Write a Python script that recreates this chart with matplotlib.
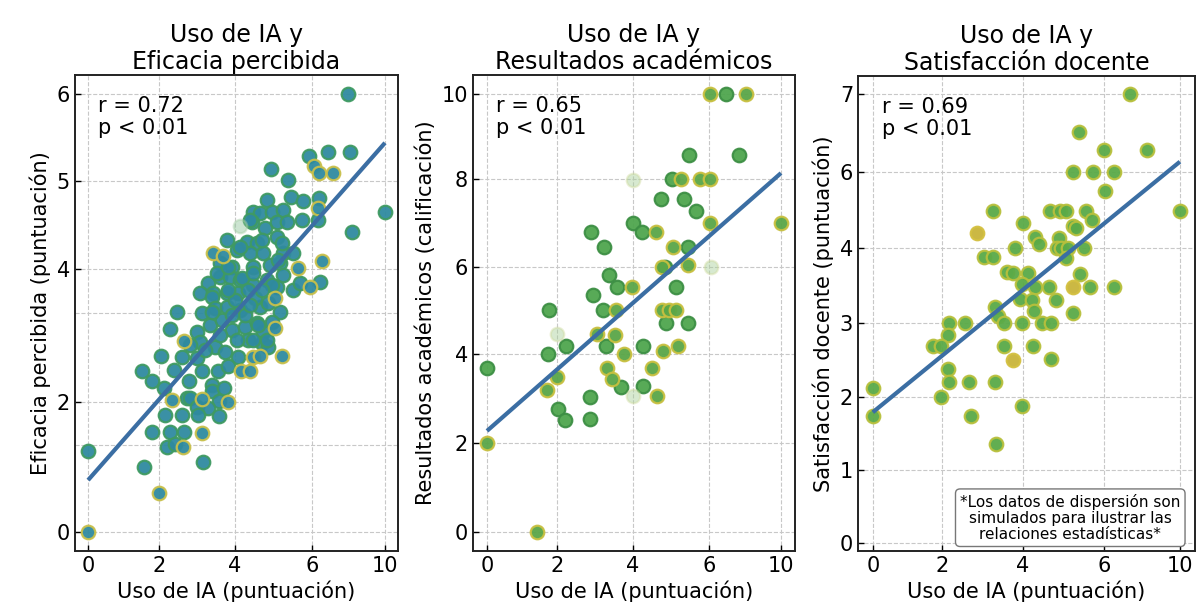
import numpy as np
import matplotlib
matplotlib.use("Agg")
import matplotlib.pyplot as plt

# ---------------- datos ----------------
# Panel 1: Uso de IA vs Eficacia percibida
x1 = [7.97, 6.88, 8.08, 5.92, 6.11, 6.38, 7.15, 4.94, 5.38, 4.83,
      5.45, 5.77, 6.38, 6.33, 6.33, 5.74, 10.0, 8.19, 4.47, 4.65,
      4.96, 5.25, 4.44, 4.78, 5.09, 5.35, 4.13, 3.79, 4.31, 4.57,
      5.09, 3.42, 4.05, 4.39, 4.73, 5.25, 5.51, 6.55, 5.64, 3.61,
      3.92, 4.47, 4.91, 5.17, 6.44, 5.95, 5.51, 3.29, 3.61, 3.87,
      4.13, 4.47, 4.83, 5.09, 3.08, 3.42, 3.68, 4.13, 4.70, 4.39,
      3.53, 3.82, 4.18, 4.47, 3.39, 3.79, 4.08, 4.34, 2.47, 3.13,
      3.47, 3.79, 4.13, 4.65, 2.29, 2.66, 3.00, 3.08, 3.34, 3.66,
      3.92, 4.26, 4.57, 4.73, 5.04, 5.17, 4.86, 2.05, 2.61, 3.00,
      3.47, 3.74, 4.08, 4.34, 4.70, 4.86, 1.52, 1.80, 2.13, 2.39,
      2.79, 3.13, 3.55, 3.82, 4.16, 4.39, 4.47, 4.65, 5.22, 3.39,
      3.39, 3.71, 2.34, 2.74, 2.82, 3.13, 3.58, 3.82, 3.00, 3.29,
      2.16, 2.61, 3.03, 3.58, 1.80, 2.29, 2.66, 3.13, 2.21, 2.42,
      2.63, 0.00, 1.58, 3.16, 2.00, 0.00, 5.69, 4.96, 5.25, 5.04,
      5.22, 5.12, 3.39, 4.96, 4.83, 4.47, 4.00, 4.26, 4.52, 3.92,
      3.61, 4.39, 4.70, 4.05, 3.21, 2.82, 3.82, 4.60]
y1 = [6.00, 5.34, 5.34, 5.29, 5.17, 5.09, 5.09, 5.14, 5.01, 4.78,
      4.82, 4.77, 4.81, 4.69, 4.56, 4.56, 4.65, 4.42, 4.65, 4.64,
      4.65, 4.67, 4.53, 4.47, 4.53, 4.53, 4.49, 4.33, 4.31, 4.30,
      4.36, 4.18, 4.22, 4.18, 4.18, 4.18, 4.18, 4.09, 4.01, 4.07,
      4.02, 4.02, 4.05, 4.07, 3.80, 3.73, 3.68, 3.79, 3.88, 3.88,
      3.83, 3.76, 3.83, 3.73, 3.64, 3.64, 4.15, 4.25, 4.33, 4.56,
      3.94, 4.02, 3.86, 3.94, 3.58, 3.64, 3.64, 3.68, 3.35, 3.34,
      3.41, 3.43, 3.38, 3.43, 3.10, 2.92, 3.05, 2.90, 3.16, 3.23,
      3.08, 3.13, 3.19, 3.05, 3.11, 3.35, 3.49, 2.69, 2.68, 2.66,
      2.83, 2.75, 2.68, 2.93, 2.89, 2.83, 2.47, 2.32, 2.21, 2.48,
      2.32, 2.47, 2.47, 2.54, 2.47, 2.47, 2.68, 2.69, 2.69, 2.26,
      2.17, 2.21, 2.03, 2.06, 2.06, 2.05, 2.02, 2.00, 1.92, 1.91,
      1.80, 1.80, 1.80, 1.78, 1.54, 1.54, 1.54, 1.52, 1.31, 1.35,
      1.31, 1.25, 1.00, 1.08, 0.60, 0.00, 3.79, 3.76, 3.91, 3.56,
      4.30, 4.10, 3.35, 3.20, 2.93, 2.93, 3.53, 3.31, 3.56, 3.31,
      3.01, 3.46, 3.68, 2.93, 2.78, 2.86, 3.68, 3.16]
tono1 = ("ggggyyyggg gggygggggg ggggggfggg gygggggyyg gggggygggg "
         "ggggggyggg gggggggggg gggggygggg ggggyggggg gggggggggg "
         "ggggyyyyyg ggyggygygg gggggggygg ygggyygggy gggggggggg "
         "gggggggg")
linea1 = ([0, 10], [0.80, 5.44])

# Panel 2: Uso de IA vs Resultados academicos
x2 = [6.03, 6.94, 8.06, 5.47, 7.67, 4.00, 5.03, 5.26, 5.76, 6.03,
      4.74, 5.34, 5.66, 4.00, 6.03, 10.0, 2.89, 4.24, 4.61, 3.24,
      5.05, 5.45, 4.76, 4.84, 5.45, 6.11, 3.37, 3.58, 3.97, 5.13,
      2.95, 1.77, 3.21, 3.55, 4.76, 4.95, 5.13, 4.87, 5.45, 2.00,
      3.05, 3.53, 2.24, 3.29, 4.26, 5.18, 1.74, 3.76, 4.79, 0.00,
      2.00, 3.32, 3.45, 4.50, 1.71, 3.68, 4.26, 2.87, 4.00, 4.63,
      2.03, 2.21, 2.87, 0.00, 1.43]
y2 = [10.0, 10.0, 10.0, 8.56, 8.56, 7.98, 8.00, 8.00, 8.00, 8.00,
      7.55, 7.55, 7.27, 7.00, 7.00, 7.00, 6.80, 6.80, 6.80, 6.45,
      6.45, 6.45, 6.00, 6.00, 6.05, 6.00, 5.82, 5.54, 5.54, 5.54,
      5.36, 5.01, 5.01, 5.01, 5.01, 5.01, 5.01, 4.71, 4.71, 4.46,
      4.46, 4.44, 4.18, 4.18, 4.18, 4.18, 4.00, 4.00, 4.07, 3.69,
      3.48, 3.69, 3.44, 3.69, 3.19, 3.26, 3.28, 3.03, 3.06, 3.06,
      2.76, 2.52, 2.54, 2.00, 0.00]
tono2 = ("ygyggfgyyy ggggyyggyg ygygyfggyg gggyyyyggf yygggygyyg "
         "yyyyygggfy gggyy")
linea2 = ([0, 10], [2.27, 8.14])

# Panel 3: Uso de IA vs Satisfaccion docente
x3 = [7.37, 5.38, 6.00, 8.26, 5.23, 5.73, 6.53, 6.05, 3.26, 4.67,
      4.91, 5.06, 5.56, 5.70, 10.0, 4.00, 5.23, 5.31, 2.86, 4.30,
      4.40, 4.89, 3.80, 4.84, 4.94, 5.11, 5.51, 3.04, 3.26, 5.06,
      3.60, 3.75, 4.12, 5.41, 3.98, 4.30, 4.64, 5.23, 5.65, 6.53,
      3.93, 4.22, 4.81, 4.27, 5.23, 3.31, 3.38, 3.53, 3.98, 4.47,
      4.70, 2.17, 2.57, 2.15, 1.74, 1.97, 3.53, 4.25, 3.75, 4.70,
      2.15, 2.17, 2.67, 3.31, 1.97, 3.98, 0.00, 0.00, 2.72, 3.33]
y3 = [7.00, 6.51, 6.28, 6.28, 6.00, 6.00, 6.00, 5.50, 4.97, 4.97,
      4.97, 4.97, 4.97, 4.74, 4.97, 4.66, 4.58, 4.53, 4.39, 4.29,
      4.11, 4.26, 4.00, 4.00, 4.00, 4.00, 4.00, 3.88, 3.88, 3.87,
      3.68, 3.67, 3.67, 3.65, 3.52, 3.48, 3.48, 3.48, 3.48, 3.48,
      3.32, 3.31, 3.31, 3.16, 3.13, 3.21, 3.09, 3.00, 3.00, 3.00,
      3.00, 3.00, 3.00, 2.84, 2.69, 2.69, 2.69, 2.69, 2.50, 2.51,
      2.38, 2.20, 2.20, 2.20, 2.00, 1.88, 2.12, 1.74, 1.74, 1.36]
tono3 = ("gggggggggg ggggggggog gggggggggg gggggggogg gggggggggg "
         "ggggggggog gggggggggg")
linea3 = ([0, 10], [1.79, 6.13])

titulos = ["Uso de IA y\nEficacia percibida",
           "Uso de IA y\nResultados académicos",
           "Uso de IA y\nSatisfacción docente"]
ylabels = ["Eficacia percibida (puntuación)",
           "Resultados académicos (calificación)",
           "Satisfacción docente (puntuación)"]
xlabel = "Uso de IA (puntuación)"
stats = ["r = 0.72\np < 0.01", "r = 0.65\np < 0.01", "r = 0.69\np < 0.01"]
xticks = [0, 2, 4, 6, 10]
yticks = [[0, 2, 4, 5, 6], [0, 2, 4, 6, 8, 10], [0, 1, 2, 3, 4, 6, 7]]
nota = ("*Los datos de dispersión son\nsimulados para ilustrar las\n"
        "relaciones estadísticas*")

# ---------------- escalas (ejes no uniformes del original) ----------------
def escala(vals, pix):
    vals = np.asarray(vals, float)
    pix = np.asarray(pix, float)
    s0 = (pix[1] - pix[0]) / (vals[1] - vals[0])
    s1 = (pix[-1] - pix[-2]) / (vals[-1] - vals[-2])
    v = np.r_[vals[0] - 100, vals, vals[-1] + 100]
    p = np.r_[pix[0] - 100 * s0, pix, pix[-1] + 100 * s1]
    return (lambda a: np.interp(a, v, p), lambda a: np.interp(a, p, v))

pos_x = [[88, 159, 235, 312, 385], [487, 557, 633, 709, 781],
         [873, 942, 1023, 1104, 1180]]
pos_y = [[74, 204, 337, 425, 512], [74, 163, 252, 339, 427, 512],
         [63, 136, 209, 283, 358, 434, 512]]
xlims = [(-0.37, 10.71), (-0.40, 10.78), (-0.43, 10.79)]
ylims = [(-0.29, 6.22), (-0.43, 10.45), (-0.11, 7.23)]
rects = [[0.0623, 0.0908, 0.2685, 0.7855],
         [0.3932, 0.0908, 0.2677, 0.7855],
         [0.7132, 0.0908, 0.2801, 0.7840]]

colores = [
    {"g": ("#2f8aa0", "#3f9a62"), "y": ("#2f8aa0", "#c9c04a"), "f": ("#8fc49a", "#a8d0a8")},
    {"g": ("#4fa64e", "#3d8f44"), "y": ("#5aa648", "#c8c040"), "f": ("#a8cf98", "#d0dca0")},
    {"g": ("#5aaa48", "#b8c03c"), "o": ("#c9b43a", "#d4c040")},
]

plt.rcParams['font.family'] = ['DejaVu Sans']
fig = plt.figure(figsize=(12.03, 6.06), dpi=100)

datos = [(x1, y1, tono1, linea1), (x2, y2, tono2, linea2), (x3, y3, tono3, linea3)]
for i, (xs, ys, tono, linea) in enumerate(datos):
    ax = fig.add_axes(rects[i])
    ax.set_xscale('function', functions=escala(xticks, pos_x[i]))
    ax.set_yscale('function', functions=escala(yticks[i], pos_y[i]))
    tono = tono.replace(" ", "")
    xs = np.array(xs)
    ys = np.array(ys)
    t = np.array(list(tono))
    for k, (fc, ec) in colores[i].items():
        m = t == k
        ax.scatter(xs[m], ys[m], s=95, c=fc, edgecolors=ec, linewidths=1.6,
                   alpha=0.45 if k == "f" else 0.95, zorder=2)
    ax.plot(linea[0], linea[1], color="#3b6ea3", lw=3, zorder=3,
            solid_capstyle='butt')
    ax.set_xlim(xlims[i])
    ax.set_ylim(ylims[i])
    ax.set_xticks(xticks)
    ax.set_xticklabels([str(v) for v in xticks])
    ax.set_yticks(yticks[i])
    ax.set_yticklabels([str(v) for v in yticks[i]])
    ax.minorticks_off()
    if i == 0:
        ax.set_yticks([1.34, 3.34], minor=True)
        ax.tick_params(which='minor', length=0)
    ax.grid(True, which='both', linestyle='--', color='#c8c8c8', linewidth=0.8)
    ax.set_axisbelow(True)
    ax.tick_params(which='major', direction='in', length=4, width=1,
                   labelsize=15)
    for sp in ax.spines.values():
        sp.set_linewidth(1.4)
        sp.set_color('#222222')
    ax.set_title(titulos[i], fontsize=17, pad=4)
    ax.set_xlabel(xlabel, fontsize=15, labelpad=3)
    ax.set_ylabel(ylabels[i], fontsize=15, labelpad=4)
    ax.text(0.07, 0.955, stats[i], transform=ax.transAxes, ha='left', va='top',
            fontsize=15, linespacing=1.1)
    if i == 2:
        ax.text(0.63, 0.07, nota, transform=ax.transAxes, ha='center',
                va='center', fontsize=11, linespacing=1.1,
                bbox=dict(boxstyle='round,pad=0.3', facecolor='white',
                          edgecolor='#777777', linewidth=1))

fig.savefig("out.png", dpi=100)
